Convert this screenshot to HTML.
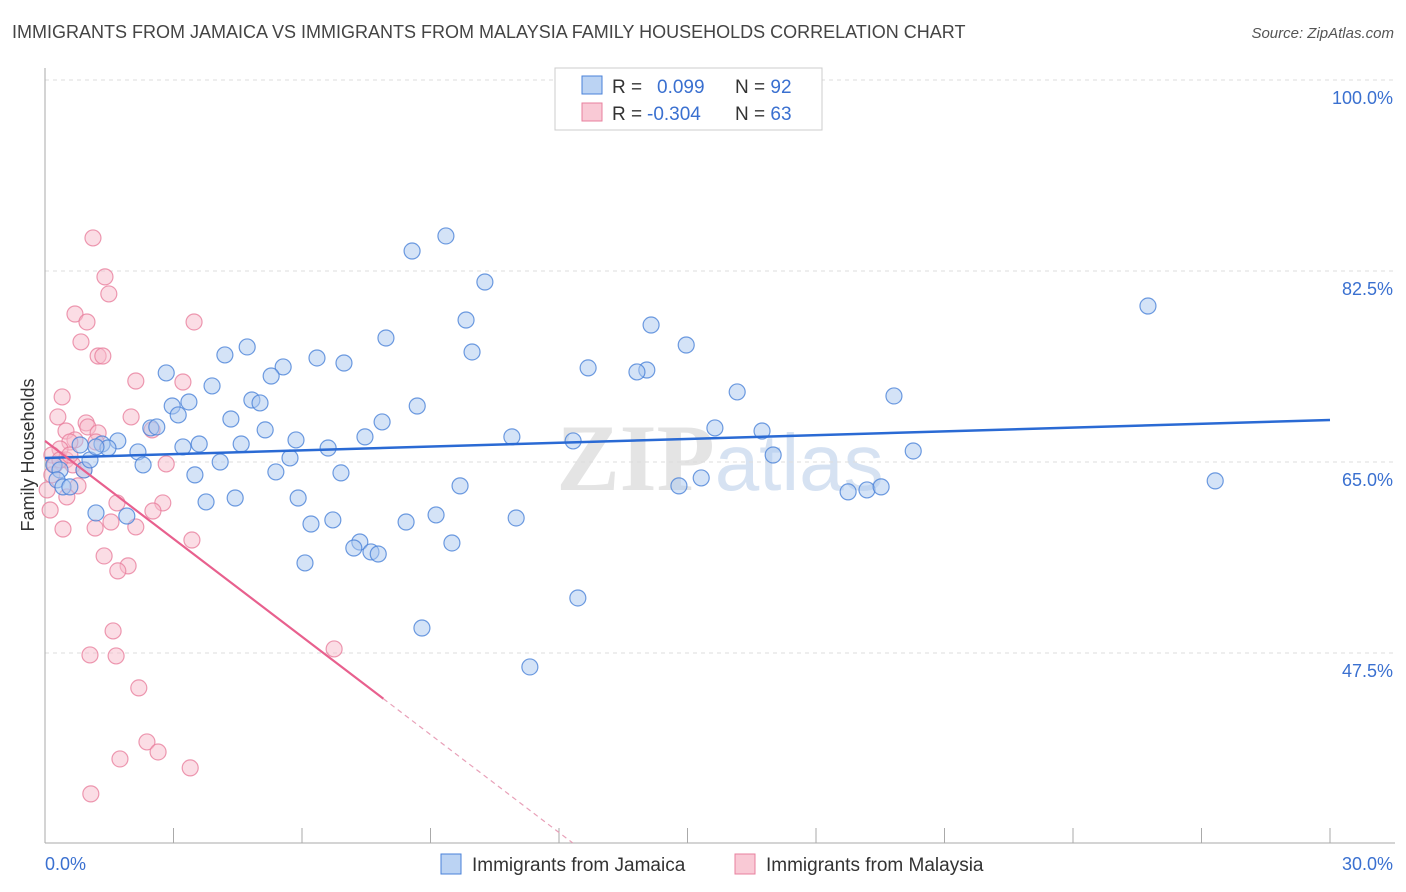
<!DOCTYPE html>
<html><head><meta charset="utf-8"><style>
body{margin:0;background:#fff;font-family:"Liberation Sans",sans-serif;}
#wrap{position:relative;width:1406px;height:892px;overflow:hidden;}
.t{position:absolute;white-space:nowrap;}
</style></head><body>
<div id="wrap">
<div class="t" style="left:12px;top:22px;font-size:18px;color:#444;">IMMIGRANTS FROM JAMAICA VS IMMIGRANTS FROM MALAYSIA FAMILY HOUSEHOLDS CORRELATION CHART</div>
<div class="t" style="right:12px;top:25px;font-size:15px;color:#555;font-style:italic;">Source: ZipAtlas.com</div>
<svg id="svg" width="1406" height="892" style="position:absolute;left:0;top:0"></svg>
</div>
<script>
const xTicks=[0,3,6,9,12,15,18,21,24,27,30];
const yTicks=[100,82.5,65,47.5];
const yTickLabels=["100.0%","82.5%","65.0%","47.5%"];
const jamX=[9.36,8.57,10.27,25.75,9.83,14.15,7.96,14.97,4.72,9.97,4.20,6.35,6.98,5.56,2.83,12.68,14.05,13.82,5.28,3.90,16.16,19.82,4.83,5.02,3.36,2.97,8.69,3.11,4.34,7.87,2.47,2.61,5.14,10.90,7.47,5.86,1.70,12.33,15.64,16.74,3.60,4.58,3.22,1.33,1.47,6.61,2.17,20.27,17.00,5.72,4.09,2.29,5.39,6.91,3.50,15.32,27.32,9.69,14.80,18.75,19.19,19.52,3.76,4.44,5.91,1.19,1.91,9.13,11.00,6.72,6.21,8.43,7.35,7.21,9.50,7.61,7.78,6.07,12.44,8.80,11.32,0.21,0.35,0.28,0.42,0.58,0.91,1.05,0.82,1.19];
const jamY=[85.71,84.33,81.49,79.29,78.01,77.55,76.36,75.72,75.54,75.08,74.81,74.53,74.07,73.71,73.16,73.62,73.43,73.25,72.88,71.97,71.42,71.05,70.68,70.41,70.50,70.13,70.13,69.31,68.94,68.67,68.12,68.21,67.94,67.30,67.30,67.02,66.93,66.93,68.12,67.84,66.65,66.65,66.38,66.65,66.28,66.28,65.92,66.01,65.64,65.37,65.00,64.73,64.09,64.00,63.82,63.54,63.27,62.81,62.81,62.26,62.44,62.72,61.34,61.70,61.70,60.33,60.05,60.15,59.87,59.69,59.32,59.50,57.67,57.12,57.58,56.76,56.57,55.75,52.54,49.79,46.22,64.73,64.27,63.36,62.72,62.72,64.27,65.19,66.56,66.38];
const malX=[1.12,1.40,1.49,0.70,0.98,3.48,0.84,1.24,1.35,2.12,3.22,0.40,2.01,0.30,0.96,1.00,0.49,1.24,2.50,0.70,0.58,1.19,0.35,0.16,0.49,0.65,0.91,2.83,0.16,0.77,0.05,0.51,1.68,2.75,2.52,0.12,1.54,1.17,2.12,0.42,3.43,1.38,1.94,1.70,1.59,1.05,1.66,6.75,2.19,2.38,2.64,1.75,3.39,1.07,0.23,0.35,0.58];
const malY=[85.53,81.96,80.40,78.56,77.83,77.83,76.00,74.71,74.71,72.42,72.33,70.96,69.13,69.13,68.58,68.21,67.84,67.66,67.94,67.02,66.83,66.83,66.19,65.64,65.19,64.73,64.27,64.82,63.82,62.81,62.44,61.80,61.25,61.25,60.51,60.60,59.50,58.95,59.05,58.86,57.85,56.39,55.48,55.02,49.52,47.32,47.23,47.87,44.30,39.35,38.43,37.79,36.97,34.59,64.73,65.19,65.64];
const jamTrend=[65.37,68.85];
const malTrend=[66.93,-2.99];
const legendR=["0.099","-0.304"], legendN=["92","63"];

const X=v=>45+v/30*1285, Y=v=>80+(100-v)*10.914;
const svg=document.getElementById('svg'), NS='http://www.w3.org/2000/svg';
function mk(tag,attrs,parent){const e=document.createElementNS(NS,tag);for(const k in attrs)e.setAttribute(k,attrs[k]);(parent||svg).appendChild(e);return e;}
// watermark
let wm=mk('text',{x:720,y:490,'text-anchor':'middle','font-size':95,'font-family':'Liberation Serif, serif',fill:'#e4e4e4','font-weight':'bold'});

wm.innerHTML='ZIP<tspan fill="#d6e2f2" font-family="Liberation Sans, sans-serif" font-weight="normal" font-size="80">atlas</tspan>';
yTicks.forEach((t,i)=>{
 let g=mk('line',{x1:45,x2:1395,y1:Y(t),y2:Y(t),stroke:'#ddd','stroke-dasharray':'4,4'});
 
 let l=mk('text',{x:1393,y:Y(t)+24,'text-anchor':'end','font-size':18,fill:'#3a70d0'});
 
 l.textContent=yTickLabels[i];
});
let ax=mk('line',{x1:45,x2:45,y1:68,y2:843,stroke:'#aaa'});

let bx=mk('line',{x1:45,x2:1395,y1:843,y2:843,stroke:'#aaa'});

xTicks.forEach(t=>{let k=mk('line',{x1:X(t),x2:X(t),y1:828,y2:843,stroke:'#aaa'});
 });
let xl0=mk('text',{x:45,y:870,'font-size':18,fill:'#3a70d0'});xl0.textContent='0.0%';

let xl1=mk('text',{x:1393,y:870,'font-size':18,fill:'#3a70d0','text-anchor':'end'});xl1.textContent='30.0%';

let yt=mk('text',{x:34,y:455,'font-size':18,fill:'#333','text-anchor':'middle',transform:'rotate(-90 34 455)'});yt.textContent='Family Households';

function pts(xs,ys,fill,stroke,name){xs.forEach((v,i)=>{let c=mk('circle',{cx:X(v),cy:Y(ys[i]),r:8,fill:fill,'fill-opacity':0.5,stroke:stroke,'stroke-width':1.2,'stroke-opacity':0.8});
 });}
pts(malX,malY,'#f8bccb','#e8809e','malaysia-point');
pts(jamX,jamY,'#aac8f0','#4a82d8','jamaica-point');
let jt=mk('line',{x1:X(0),y1:Y(jamTrend[0]),x2:X(30),y2:Y(jamTrend[1]),stroke:'#2a6ad4','stroke-width':2.5});

const mf=x=>malTrend[0]+malTrend[1]*x;
let mt=mk('line',{x1:X(0),y1:Y(mf(0)),x2:X(7.9),y2:Y(mf(7.9)),stroke:'#e8608e','stroke-width':2.2});

const xe=(malTrend[0]-30.1)/-malTrend[1];
let md=mk('line',{x1:X(7.9),y1:Y(mf(7.9)),x2:X(xe),y2:Y(mf(xe)),stroke:'#e8a0b8','stroke-width':1.2,'stroke-dasharray':'5,4'});

// legend box
let lb=mk('rect',{x:555,y:68,width:267,height:62,fill:'#fff',stroke:'#ccc'});

[['#aac8f0','#4a82d8'],['#f8bccb','#e8809e']].forEach((c,i)=>{
 let s=mk('rect',{x:582,y:76+i*27,width:20,height:18,fill:c[0],stroke:c[1],'fill-opacity':0.8});
 
 let t=mk('text',{x:612,y:93+i*27,'font-size':19,fill:'#333'});
 
 t.innerHTML='R = <tspan fill="#3a70d0" x="'+(i?647:657)+'">'+legendR[i]+'</tspan><tspan x="735">N = </tspan><tspan fill="#3a70d0">'+legendN[i]+'</tspan>';
});
// bottom legend
[['#aac8f0','#4a82d8','Immigrants from Jamaica',441],['#f8bccb','#e8809e','Immigrants from Malaysia',735]].forEach(d=>{
 let s=mk('rect',{x:d[3],y:854,width:20,height:20,fill:d[0],stroke:d[1],'fill-opacity':0.8});
 
 let t=mk('text',{x:d[3]+31,y:871,'font-size':19,fill:'#333'});t.textContent=d[2];
 
});
</script>
</body></html>
